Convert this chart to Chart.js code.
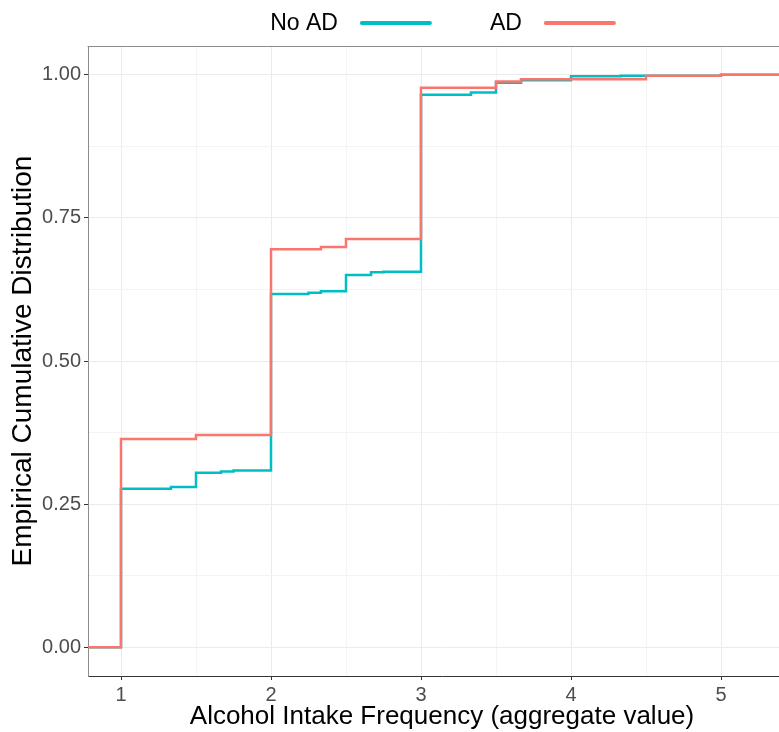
<!DOCTYPE html>
<html>
<head>
<meta charset="utf-8">
<script src="https://cdn.jsdelivr.net/npm/chart.js"></script>
<style>
  body { margin: 0; overflow: hidden; background: #fff; }
  #wrap { width: 800px; height: 732px; }
</style>
</head>
<body>
<div id="wrap"><canvas id="myChart"></canvas></div>
<script>
//data, step points of the ECDF
const noAdX = [0, 1, 1.333, 1.5, 1.667, 1.75, 2, 2.25, 2.333, 2.5, 2.667, 2.75, 3, 3.333, 3.5, 3.667, 4, 4.333, 5, 6];
const noAdY = [0, 0.277, 0.280, 0.305, 0.307, 0.309, 0.617, 0.619, 0.622, 0.650, 0.655, 0.656, 0.965, 0.969, 0.986, 0.990, 0.997, 0.998, 1.0, 1.0];

const adX = [0, 1, 1.5, 2, 2.333, 2.5, 3, 3.5, 3.667, 4.5, 5, 6];
const adY = [0, 0.364, 0.371, 0.695, 0.699, 0.713, 0.977, 0.988, 0.992, 0.998, 1.0, 1.0];

const xMajor = [1, 2, 3, 4, 5];
const xMinor = [1.5, 2.5, 3.5, 4.5];
const yMajor = [0, 0.25, 0.5, 0.75, 1];
const yMinor = [0.125, 0.375, 0.625, 0.875];

const seriesNames = ['No AD', 'AD'];
const seriesColors = ['#00BFC4', '#F8766D'];

function toPoints(xs, ys) {
    return xs.map((x, i) => ({x: x, y: ys[i]}));
}

function setTicks(major, minor) {
    return function(scale) {
        scale.ticks = major.concat(minor).sort((a, b) => a - b).map(v => ({value: v}));
    };
}

function isMajor(list, v) {
    return list.some(m => Math.abs(m - v) < 1e-9);
}

//legend drawn as "label  ——" like ggplot
const topLegend = {
    id: 'topLegend',
    afterDraw(chart) {
        const ctx = chart.ctx;
        const area = chart.chartArea;
        ctx.save();
        ctx.font = '23px "Liberation Sans", Arial, sans-serif';
        ctx.textBaseline = 'middle';
        const keyW = 68, textGap = 24, itemGap = 60;
        let total = 0;
        seriesNames.forEach((n, i) => {
            total += ctx.measureText(n).width + textGap + keyW;
            if (i < seriesNames.length - 1) total += itemGap;
        });
        let x = (area.left + area.right) / 2 - total / 2;
        const y = 23;
        seriesNames.forEach((n, i) => {
            ctx.fillStyle = '#000';
            ctx.fillText(n, x, y + 1);
            x += ctx.measureText(n).width + textGap;
            ctx.strokeStyle = seriesColors[i];
            ctx.lineWidth = 4;
            ctx.lineCap = 'round';
            ctx.beginPath();
            ctx.moveTo(x, y);
            ctx.lineTo(x + keyW, y);
            ctx.stroke();
            x += keyW + itemGap;
        });
        //top panel border
        ctx.strokeStyle = '#8C8C8C';
        ctx.lineWidth = 1;
        ctx.beginPath();
        ctx.moveTo(area.left, area.top + 0.5);
        ctx.lineTo(area.right, area.top + 0.5);
        ctx.stroke();
        ctx.restore();
    }
};

const ctx = document.getElementById('myChart').getContext('2d');
const chart = new Chart(ctx, {
    type: 'line',
    data: {
        datasets: [{
            label: seriesNames[0],
            data: toPoints(noAdX, noAdY),
            borderColor: seriesColors[0],
            borderWidth: 2.5,
            stepped: 'before',
            pointRadius: 0,
            fill: false,
            order: 1
        }, {
            label: seriesNames[1],
            data: toPoints(adX, adY),
            borderColor: seriesColors[1],
            borderWidth: 2.5,
            stepped: 'before',
            pointRadius: 0,
            fill: false,
            order: 0
        }]
    },
    options: {
        responsive: true,
        maintainAspectRatio: false,
        animation: false,
        layout: { padding: { top: 46, right: 4, left: 0, bottom: 0 } },
        plugins: {
            legend: { display: false },
            tooltip: { enabled: false }
        },
        scales: {
            x: {
                type: 'linear',
                min: 0.78,
                max: 5.5,
                afterBuildTicks: setTicks(xMajor, xMinor),
                afterFit: s => { s.height = 56; },
                grid: {
                    color: c => isMajor(xMajor, c.tick.value) ? '#EBEBEB' : '#F4F4F4',
                    tickColor: c => isMajor(xMajor, c.tick.value) ? '#333333' : 'rgba(0,0,0,0)',
                    tickLength: 4
                },
                border: { color: '#333333', width: 1 },
                ticks: {
                    padding: 3,
                    maxRotation: 0,
                    autoSkip: false,
                    color: '#4D4D4D',
                    font: { family: '"Liberation Sans", Arial, sans-serif', size: 20 },
                    callback: v => isMajor(xMajor, v) ? String(v) : ''
                },
                title: {
                    display: true,
                    text: 'Alcohol Intake Frequency (aggregate value)',
                    color: '#000',
                    padding: { top: 0, bottom: 0 },
                    font: { family: '"Liberation Sans", Arial, sans-serif', size: 26 }
                }
            },
            y: {
                min: -0.05,
                max: 1.05,
                afterBuildTicks: setTicks(yMajor, yMinor),
                afterFit: s => { s.width = 88; },
                grid: {
                    color: c => isMajor(yMajor, c.tick.value) ? '#EBEBEB' : '#F4F4F4',
                    tickColor: c => isMajor(yMajor, c.tick.value) ? '#333333' : 'rgba(0,0,0,0)',
                    tickLength: 4
                },
                border: { color: '#8C8C8C', width: 1 },
                ticks: {
                    padding: 3,
                    autoSkip: false,
                    color: '#4D4D4D',
                    font: { family: '"Liberation Sans", Arial, sans-serif', size: 20 },
                    callback: v => isMajor(yMajor, v) ? v.toFixed(2) : ''
                },
                title: {
                    display: true,
                    text: 'Empirical Cumulative Distribution',
                    color: '#000',
                    padding: { top: 6, bottom: 0 },
                    font: { family: '"Liberation Sans", Arial, sans-serif', size: 28 }
                }
            }
        }
    },
    plugins: [topLegend]
});
</script>
</body>
</html>
